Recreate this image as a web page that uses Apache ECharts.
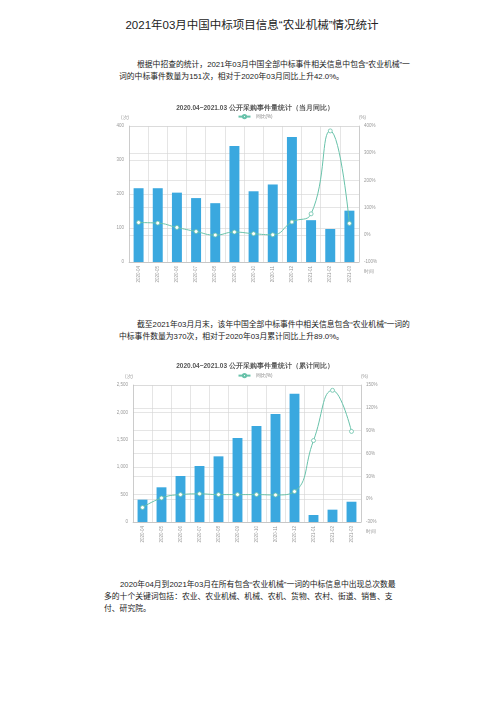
<!DOCTYPE html>
<html>
<head>
<meta charset="utf-8">
<style type="text/css">
    html, body { margin: 0; padding: 0; background: #fff; width: 504px; height: 713px; overflow: hidden; }
    body { position: relative; font-family: "Liberation Sans", "Noto Sans CJK SC", sans-serif; color: #222; }
    .title { position: absolute; left: 0; width: 504px; top: 16px; text-align: center; font-size: 11.5px; }
    .line { position: absolute; white-space: nowrap; font-size: 7.8px; line-height: 12px; }
    .chart { position: absolute; left: 100px; width: 310px; height: 200px; }
</style>
</head>
<body>
    <div class="title">2021年03月中国中标项目信息“农业机械”情况统计</div>

    <div class="line" style="left:137px;top:59px">根据中招查的统计，2021年03月中国全部中标事件相关信息中包含“农业机械”一</div>
    <div class="line" style="left:119px;top:71px">词的中标事件数量为151次，相对于2020年03月同比上升42.0%。</div>

    <div id="chart1" class="chart" style="top:95px"></div>

    <div class="line" style="left:137px;top:319px">截至2021年03月月末，该年中国全部中标事件中相关信息包含“农业机械”一词的</div>
    <div class="line" style="left:119px;top:331px">中标事件数量为370次，相对于2020年03月累计同比上升89.0%。</div>

    <div id="chart2" class="chart" style="top:350px"></div>

    <div class="line" style="left:120px;top:579px">2020年04月到2021年03月在所有包含“农业机械”一词的中标信息中出现总次数最</div>
    <div class="line" style="left:104px;top:591px">多的十个关键词包括：农业、农业机械、机械、农机、货物、农村、街道、销售、支</div>
    <div class="line" style="left:104px;top:603px">付、研究院。</div>

<script type="text/javascript" src="https://cdn.jsdelivr.net/npm/echarts@6/dist/echarts.min.js"></script>
<script type="text/javascript">
// 月份
var months = ['2020-04', '2020-05', '2020-06', '2020-07', '2020-08', '2020-09',
              '2020-10', '2020-11', '2020-12', '2021-01', '2021-02', '2021-03'];
// 当月数量 / 当月同比(%)
var monthCount = [217, 217, 204, 188, 173, 341, 208, 228, 368, 123, 97, 151];
var monthYoY = [45, 43, 27, 12, -1, 10, 4, 0, 47, 77, 382, 42];
// 累计数量 / 累计同比(%)
var totalCount = [408, 633, 839, 1022, 1198, 1533, 1752, 1971, 2342, 128, 225, 370];
var totalYoY = [-11, 1.5, 6, 7, 6, 6, 6, 5.5, 10, 77, 143, 89];

var titles = ['2020.04~2021.03 公开采购事件量统计（当月同比）',
              '2020.04~2021.03 公开采购事件量统计（累计同比）'];
var legendName = '同比(%)';

var barColor = '#3aa8df';
var lineColor = '#68c2aa';
var gridColor = '#d4d4d4';
var labelColor = '#999';

function build(dom, cfg) {
    var chart = echarts.init(dom);
    var option = {
        animation: false,
        title: {
            text: cfg.title,
            left: 'center',
            top: cfg.titleTop,
            textStyle: { fontSize: 6.5, fontWeight: 'bold', color: '#555' }
        },
        legend: {
            top: cfg.legendTop,
            left: 'center',
            itemWidth: 12,
            itemHeight: 4,
            itemGap: 4,
            textStyle: { fontSize: 4.5, color: '#888' },
            data: [legendName]
        },
        grid: cfg.grid,
        xAxis: {
            type: 'category',
            data: months,
            name: '时间',
            nameLocation: 'end',
            nameGap: 5,
            nameTextStyle: { fontSize: 4.5, color: labelColor, align: 'left', verticalAlign: 'top', padding: [7, 0, 0, 0] },
            axisLine: { lineStyle: { color: '#bbb', width: 0.6 } },
            axisTick: { show: false },
            axisLabel: { rotate: 90, fontSize: 4.5, color: labelColor, interval: 0, margin: 4 },
            splitLine: { show: true, interval: 0, lineStyle: { color: gridColor, width: 0.6 } }
        },
        yAxis: [{
            type: 'value',
            name: '(次)',
            nameGap: 6,
            nameTextStyle: { fontSize: 4.5, color: labelColor, align: 'right' },
            min: 0,
            max: cfg.leftMax,
            interval: cfg.leftInterval,
            axisLine: { show: true, lineStyle: { color: '#bbb', width: 0.6 } },
            axisTick: { show: false },
            axisLabel: {
                fontSize: 4.5, color: labelColor, margin: 5,
                formatter: function (v) { return v.toLocaleString('en-US'); }
            },
            splitLine: { show: true, lineStyle: { color: gridColor, width: 0.6 } }
        }, {
            type: 'value',
            name: '(%)',
            nameGap: 6,
            nameTextStyle: { fontSize: 4.5, color: labelColor, align: 'left' },
            min: cfg.rightMin,
            max: cfg.rightMax,
            interval: cfg.rightInterval,
            axisLine: { show: true, lineStyle: { color: '#bbb', width: 0.6 } },
            axisTick: { show: false },
            axisLabel: { fontSize: 4.5, color: labelColor, margin: 5, formatter: '{value}%' },
            splitLine: { show: true, lineStyle: { color: gridColor, width: 0.6 } }
        }],
        series: [{
            name: '数量',
            type: 'bar',
            barWidth: '52%',
            itemStyle: { color: barColor },
            data: cfg.counts
        }, {
            name: legendName,
            type: 'line',
            yAxisIndex: 1,
            smooth: 0.5,
            symbol: 'circle',
            symbolSize: 4,
            showSymbol: true,
            lineStyle: { color: lineColor, width: 1 },
            itemStyle: { color: '#fff', borderColor: lineColor, borderWidth: 0.8 },
            data: cfg.yoy
        }]
    };
    chart.setOption(option);
    return chart;
}

build(document.getElementById('chart1'), {
    title: titles[0],
    titleTop: 5,
    legendTop: 14,
    grid: { left: 29, right: 51, top: 31, bottom: 33 },
    counts: monthCount,
    yoy: monthYoY,
    leftMax: 400, leftInterval: 100,
    rightMin: -100, rightMax: 400, rightInterval: 100
});

build(document.getElementById('chart2'), {
    title: titles[1],
    titleTop: 8,
    legendTop: 18,
    grid: { left: 33, right: 49, top: 35, bottom: 28 },
    counts: totalCount,
    yoy: totalYoY,
    leftMax: 2500, leftInterval: 500,
    rightMin: -30, rightMax: 150, rightInterval: 30
});
</script>
</body>
</html>
